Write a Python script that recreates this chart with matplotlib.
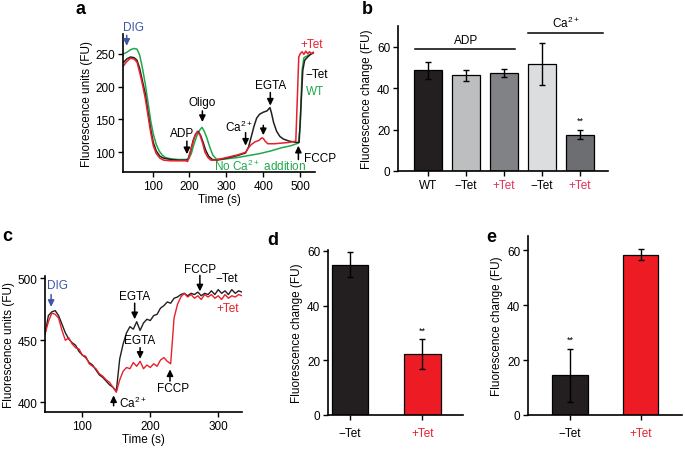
import matplotlib
matplotlib.use("Agg")
import matplotlib.pyplot as plt
import numpy as np

plt.rcParams['font.family'] = ['Liberation Sans', 'DejaVu Sans']
plt.rcParams['mathtext.default'] = 'regular'
plt.rcParams['font.size'] = 8.5

BLACK = '#231f20'
RED = '#e8202a'
GREEN = '#1fa84a'
BLUE = '#3e56a6'
PINK = '#e0305a'

# ---- panel a traces (time s, fluorescence FU) ----
a_wt_t = [22, 30, 40, 50, 58, 65, 72, 80, 88, 95, 102, 110, 118, 126, 135, 150, 170, 190, 198, 205,
          212, 220, 228, 234, 240, 247, 255, 263, 272, 285, 300, 330, 360, 390, 420, 450, 475, 495,
          500, 505, 510, 520, 530, 535]
a_wt_v = [250, 252, 256, 258, 257, 248, 230, 205, 175, 148, 128, 112, 102, 96, 92, 90, 89, 89, 90, 98,
          112, 125, 134, 138, 132, 122, 108, 96, 90, 89, 90, 92, 95, 98, 102, 107, 110, 114,
          140, 225, 244, 247, 250, 252]
a_neg_t = [22, 30, 40, 50, 58, 65, 72, 80, 88, 95, 102, 110, 120, 130, 150, 170, 190, 196, 203, 210,
           217, 223, 230, 237, 244, 252, 262, 275, 300, 330, 352, 360, 368, 375, 382, 390, 400, 410,
           418, 422, 428, 436, 445, 455, 470, 490, 497, 502, 507, 512, 520, 528, 535]
a_neg_v = [237, 242, 245, 244, 240, 228, 210, 190, 160, 135, 115, 102, 94, 91, 89, 88, 88, 89, 102, 118,
           128, 132, 126, 115, 103, 94, 89, 88, 91, 95, 99, 108, 125, 140, 152, 158, 161, 163,
           168, 160, 145, 132, 124, 120, 117, 115, 115, 170, 225, 240, 245, 249, 251]
a_pos_t = [22, 30, 40, 50, 58, 65, 72, 80, 88, 95, 102, 110, 120, 130, 150, 170, 190, 195, 200, 207,
           214, 221, 228, 235, 242, 250, 258, 270, 300, 330, 352, 360, 368, 378, 388, 396, 400, 405,
           412, 430, 450, 470, 488, 492, 496, 500, 505, 510, 515, 520, 525, 530, 535]
a_pos_v = [232, 238, 243, 242, 237, 222, 205, 183, 155, 130, 110, 98, 91, 88, 87, 87, 87, 86, 95, 110,
           124, 131, 127, 115, 100, 92, 88, 88, 92, 96, 100, 107, 112, 116, 118, 122, 121, 117,
           113, 113, 114, 115, 117, 180, 245, 250, 253, 249, 254, 250, 253, 250, 252]

# ---- panel b bars ----
b_labels = ['WT', '\u2212Tet', '+Tet', '\u2212Tet', '+Tet']
b_label_colors = ['k', 'k', PINK, 'k', PINK]
b_values = [48.6, 46.2, 47.4, 51.7, 17.6]
b_errors = [4.0, 2.8, 1.8, 10.3, 2.3]
b_colors = [BLACK, '#bdbec0', '#808285', '#dcdddf', '#6d6e71']

# ---- panel c traces ----
c_t = list(range(45, 340, 5))
c_neg = [455, 470, 473, 474, 470, 463, 456, 451, 448, 446, 441, 438, 436, 432, 430, 426, 422, 420,
         417, 414, 412, 409, 435, 447, 456, 461, 459, 465, 458, 464, 467, 466, 470, 471, 476, 478,
         481, 480, 484, 485, 487, 488, 486, 488, 487, 489, 486, 488, 487, 490, 487, 491, 488, 490,
         487, 491, 488, 490, 489]
c_pos = [455, 465, 472, 471, 468, 458, 450, 452, 447, 444, 443, 438, 437, 431, 429, 427, 423, 421,
         418, 416, 412, 408, 418, 425, 428, 427, 432, 429, 433, 427, 430, 428, 431, 429, 434, 436,
         433, 431, 468, 479, 485, 488, 485, 487, 484, 486, 483, 487, 485, 487, 484, 486, 483, 487,
         484, 486, 485, 487, 486]

# ---- panels d, e bars ----
de_labels = ['\u2212Tet', '+Tet']
d_values = [55.0, 22.3]
d_errors = [4.4, 5.5]
e_values = [14.5, 58.4]
e_errors = [9.7, 2.1]
de_colors = [BLACK, '#ed1c24']
de_label_colors = ['k', RED]

W, H = 685, 452
fig = plt.figure(figsize=(W / 100, H / 100), dpi=100)


def add_ax(left, right, top, bottom):
    return fig.add_axes([left / W, 1 - bottom / H, (right - left) / W, (bottom - top) / H])


def style(ax):
    for s in ['top', 'right']:
        ax.spines[s].set_visible(False)
    for s in ['left', 'bottom']:
        ax.spines[s].set_linewidth(1.2)
    ax.tick_params(direction='out', length=3.5, width=1.0, labelsize=8.5, pad=2)


def arrow(ax, x, y0, y1, color='k'):
    ax.annotate('', xy=(x, y1), xytext=(x, y0), annotation_clip=False,
                arrowprops=dict(arrowstyle='-|>,head_width=0.22,head_length=0.45',
                                color=color, lw=1.1, shrinkA=0, shrinkB=0))


# ---------------- a ----------------
ax = add_ax(123, 315, 35, 173)
style(ax)
ax.plot(a_wt_t, a_wt_v, color=GREEN, lw=1.1)
ax.plot(a_neg_t, a_neg_v, color=BLACK, lw=1.1)
ax.plot(a_pos_t, a_pos_v, color=RED, lw=1.1)
ax.set_xlim(20, 540)
ax.set_ylim(70, 280)
ax.set_xticks([100, 200, 300, 400, 500])
ax.set_yticks([100, 150, 200, 250])
ax.set_xlabel('Time (s)', labelpad=1)
ax.set_ylabel('Fluorescence units (FU)', labelpad=2)
arrow(ax, 30, 278, 262, BLUE)
ax.text(48, 291, 'DIG', color=BLUE, ha='center', va='center')
arrow(ax, 193, 117, 97)
ax.text(179, 130, 'ADP', ha='center', va='center')
arrow(ax, 235, 163, 146)
ax.text(235, 177, 'Oligo', ha='center', va='center')
arrow(ax, 352, 130, 110)
ax.text(333, 140, 'Ca$^{2+}$', ha='center', va='center')
arrow(ax, 400, 141, 126)
arrow(ax, 419, 191, 171)
ax.text(419, 202, 'EGTA', ha='center', va='center')
arrow(ax, 495, 89, 110)
ax.text(510, 91, 'FCCP', ha='left', va='center', clip_on=False)
ax.text(391, 80, 'No Ca$^{2+}$ addition', color=GREEN, ha='center', va='center')
ax.text(531, 265, '+Tet', color=RED, ha='center', va='center', clip_on=False)
ax.text(545, 219, '\u2212Tet', color='k', ha='center', va='center', clip_on=False)
ax.text(540, 193, 'WT', color=GREEN, ha='center', va='center', clip_on=False)

# ---------------- b ----------------
ax = add_ax(398, 608, 27, 172)
style(ax)
bx = np.arange(len(b_values))
ax.bar(bx, b_values, width=0.73, color=b_colors, edgecolor='k', linewidth=0.9)
ax.errorbar(bx, b_values, yerr=b_errors, fmt='none', ecolor='k', elinewidth=1.0, capsize=2.5, capthick=1.0)
ax.set_xlim(-0.79, 4.74)
ax.set_ylim(0, 70)
ax.set_yticks([0, 20, 40, 60])
ax.set_xticks(bx)
ax.set_xticklabels(b_labels)
for lab, c in zip(ax.get_xticklabels(), b_label_colors):
    lab.set_color(c)
ax.set_ylabel('Fluorescence change (FU)', labelpad=3)
ax.plot([-0.34, 2.29], [59, 59], color='k', lw=1.1)
ax.text(1.0, 63.4, 'ADP', ha='center', va='center')
ax.plot([2.63, 4.6], [66.6, 66.6], color='k', lw=1.1, clip_on=False)
ax.text(3.62, 71.5, 'Ca$^{2+}$', ha='center', va='center', clip_on=False)
ax.text(4, 24.5, '**', ha='center', va='center', fontsize=6.5)

# ---------------- c ----------------
ax = add_ax(45, 242, 277, 413)
style(ax)
ax.plot(c_t, c_neg, color=BLACK, lw=1.0)
ax.plot(c_t, c_pos, color=RED, lw=1.0)
ax.set_xlim(45, 335)
ax.set_ylim(392, 502)
ax.set_xticks([100, 200, 300])
ax.set_yticks([400, 450, 500])
ax.set_xlabel('Time (s)', labelpad=1)
ax.set_ylabel('Fluorescence units (FU)', labelpad=2)
arrow(ax, 54, 487, 477, BLUE)
ax.text(64, 495, 'DIG', color=BLUE, ha='center', va='center')
arrow(ax, 177, 480, 467)
ax.text(177, 486, 'EGTA', ha='center', va='center')
arrow(ax, 185, 444, 435)
ax.text(185, 450, 'EGTA', ha='center', va='center')
arrow(ax, 146, 397, 405.5)
ax.text(154, 400, 'Ca$^{2+}$', ha='left', va='center', clip_on=False)
arrow(ax, 229, 417, 426.5)
ax.text(234, 411.5, 'FCCP', ha='center', va='center')
arrow(ax, 273, 502.5, 489.5)
ax.text(273, 508, 'FCCP', ha='center', va='center', clip_on=False)
ax.text(312, 500, '\u2212Tet', ha='center', va='center', clip_on=False)
ax.text(314, 476, '+Tet', color=RED, ha='center', va='center', clip_on=False)

# ---------------- d ----------------
ax = add_ax(328, 463, 251, 416)
style(ax)
dx = np.arange(2)
ax.bar(dx, d_values, width=0.5, color=de_colors, edgecolor='k', linewidth=0.9)
ax.errorbar(dx, d_values, yerr=d_errors, fmt='none', ecolor='k', elinewidth=1.0, capsize=2.5, capthick=1.0)
ax.set_xlim(-0.30, 1.56)
ax.set_ylim(0, 60.3)
ax.set_yticks([0, 20, 40, 60])
ax.set_xticks(dx)
ax.set_xticklabels(de_labels)
for lab, c in zip(ax.get_xticklabels(), de_label_colors):
    lab.set_color(c)
ax.tick_params(axis='x', pad=5)
ax.set_ylabel('Fluorescence change (FU)', labelpad=3)
ax.text(1, 31, '**', ha='center', va='center', fontsize=6.5)

# ---------------- e ----------------
ax = add_ax(528, 682, 237, 416)
style(ax)
ax.bar(dx, e_values, width=0.51, color=de_colors, edgecolor='k', linewidth=0.9)
ax.errorbar(dx, e_values, yerr=e_errors, fmt='none', ecolor='k', elinewidth=1.0, capsize=2.5, capthick=1.0)
ax.set_xlim(-0.6, 1.59)
ax.set_ylim(0, 65.2)
ax.set_yticks([0, 20, 40, 60])
ax.set_xticks(dx)
ax.set_xticklabels(de_labels)
for lab, c in zip(ax.get_xticklabels(), de_label_colors):
    lab.set_color(c)
ax.tick_params(axis='x', pad=5)
ax.set_ylabel('Fluorescence change (FU)', labelpad=3)
ax.text(0, 27.5, '**', ha='center', va='center', fontsize=6.5)

# panel letters
for lbl, x, y in [('a', 80, 10), ('b', 367, 10), ('c', 7, 237), ('d', 273, 241), ('e', 491, 238)]:
    fig.text(x / W, 1 - y / H, lbl, fontsize=13, fontweight='bold', ha='center', va='center')

fig.savefig('out.png', dpi=100)
